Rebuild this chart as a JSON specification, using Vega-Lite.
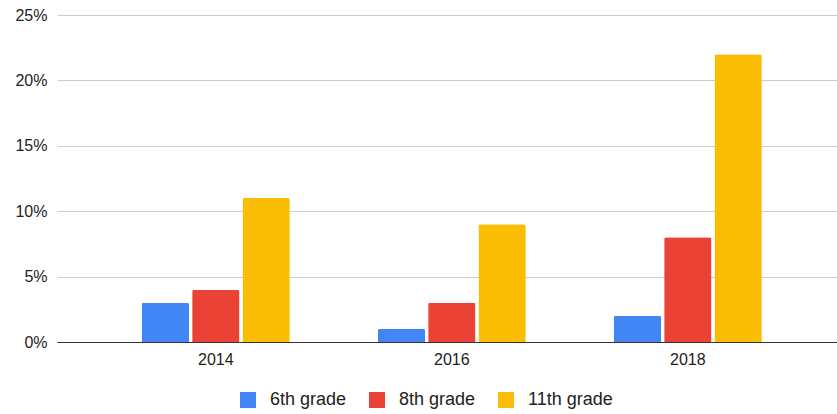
{
  "$schema": "https://vega.github.io/schema/vega-lite/v6.json",
  "width": 780,
  "height": 327,
  "autosize": {"type": "none"},
  "padding": {"left": 57, "top": 15, "right": 0, "bottom": 72},
  "background": "white",
  "config": {
    "view": {"stroke": null},
    "font": "Liberation Sans"
  },
  "data": {
    "values": [
      {"year": "2014", "grade": "6th grade", "value": 0.03},
      {"year": "2014", "grade": "8th grade", "value": 0.04},
      {"year": "2014", "grade": "11th grade", "value": 0.11},
      {"year": "2016", "grade": "6th grade", "value": 0.01},
      {"year": "2016", "grade": "8th grade", "value": 0.03},
      {"year": "2016", "grade": "11th grade", "value": 0.09},
      {"year": "2018", "grade": "6th grade", "value": 0.02},
      {"year": "2018", "grade": "8th grade", "value": 0.08},
      {"year": "2018", "grade": "11th grade", "value": 0.22}
    ]
  },
  "mark": {"type": "bar", "cornerRadiusTopLeft": 2, "cornerRadiusTopRight": 2},
  "encoding": {
    "x": {
      "field": "year",
      "type": "nominal",
      "title": null,
      "scale": {"paddingInner": 0.373, "paddingOuter": 0.339, "align": 0.53},
      "axis": {
        "labelAngle": 0,
        "labelFontSize": 16,
        "labelColor": "#222222",
        "labelPadding": 9,
        "ticks": false,
        "domainColor": "#333333",
        "domainWidth": 1.2,
        "grid": false
      }
    },
    "xOffset": {
      "field": "grade",
      "type": "nominal",
      "sort": ["6th grade", "8th grade", "11th grade"],
      "scale": {"paddingInner": 0.06}
    },
    "y": {
      "field": "value",
      "type": "quantitative",
      "title": null,
      "scale": {"domain": [0, 0.25]},
      "axis": {
        "format": ".0%",
        "values": [0, 0.05, 0.1, 0.15, 0.2, 0.25],
        "labelFontSize": 16,
        "labelColor": "#222222",
        "labelPadding": 10,
        "ticks": false,
        "domain": false,
        "gridColor": "#cccccc"
      }
    },
    "color": {
      "field": "grade",
      "type": "nominal",
      "sort": ["6th grade", "8th grade", "11th grade"],
      "scale": {
        "domain": ["6th grade", "8th grade", "11th grade"],
        "range": ["#4285F4", "#EA4335", "#FBBC04"]
      },
      "legend": {
        "title": null,
        "orient": "none",
        "legendX": 182,
        "legendY": 376,
        "direction": "horizontal",
        "symbolType": "square",
        "symbolSize": 256,
        "symbolStrokeWidth": 0,
        "symbolOpacity": 1,
        "labelFontSize": 18,
        "labelColor": "#222222",
        "labelOffset": 13,
        "columnPadding": 21
      }
    }
  }
}
